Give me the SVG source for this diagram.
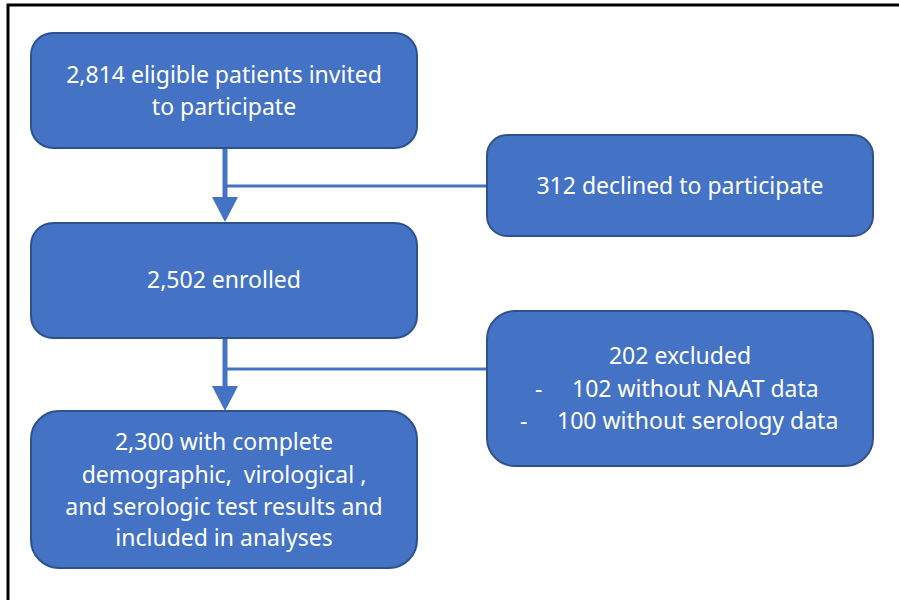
<svg xmlns="http://www.w3.org/2000/svg" width="899" height="600" viewBox="0 0 899 600">
<style>
.box{fill:#4472C4;stroke:#2F528F;stroke-width:2}
.t{font-family:"Noto Sans","Liberation Sans",Arial,sans-serif;font-size:23px;fill:#fff;text-anchor:middle}
.tl{font-family:"Noto Sans","Liberation Sans",Arial,sans-serif;font-size:23px;fill:#fff}
.ln{stroke:#4472C4;fill:none}
</style>
<rect x="0" y="0" width="899" height="600" fill="#fff"/>
<path d="M8,600 V5 H899" fill="none" stroke="#000" stroke-width="3"/>
<g id="connectors">
<line class="ln" x1="225" y1="148" x2="225" y2="200" stroke-width="5"/>
<line class="ln" x1="225" y1="186" x2="487" y2="186" stroke-width="3"/>
<polygon points="212,197 238,197 225,222" fill="#4472C4"/>
<line class="ln" x1="225" y1="338" x2="225" y2="389" stroke-width="5"/>
<line class="ln" x1="225" y1="369" x2="487" y2="369" stroke-width="3"/>
<polygon points="212,386 238,386 225,411" fill="#4472C4"/>
</g>
<g id="n1">
<rect class="box" x="31" y="33" width="386" height="115" rx="22"/>
<text class="t" x="224" y="83">2,814 eligible patients invited</text>
<text class="t" x="224" y="115">to participate</text>
</g>
<g id="n2">
<rect class="box" x="31" y="223" width="386" height="115" rx="22"/>
<text class="t" x="224" y="288">2,502 enrolled</text>
</g>
<g id="n3">
<rect class="box" x="31" y="411" width="386" height="157" rx="28"/>
<text class="t" x="224" y="450">2,300 with complete</text>
<text class="t" x="224" y="483" xml:space="preserve">demographic,  virological ,</text>
<text class="t" x="224" y="515">and serologic test results and</text>
<text class="t" x="224" y="546">included in analyses</text>
</g>
<g id="n4">
<rect class="box" x="487" y="135" width="386" height="101" rx="20"/>
<text class="t" x="680" y="194">312 declined to participate</text>
</g>
<g id="n5">
<rect class="box" x="487" y="311" width="386" height="155" rx="28"/>
<text class="t" x="680" y="364">202 excluded</text>
<text class="tl" x="535" y="397">-</text>
<text class="tl" x="572" y="397">102 without NAAT data</text>
<text class="tl" x="520" y="429">-</text>
<text class="tl" x="557" y="429">100 without serology data</text>
</g>
</svg>
